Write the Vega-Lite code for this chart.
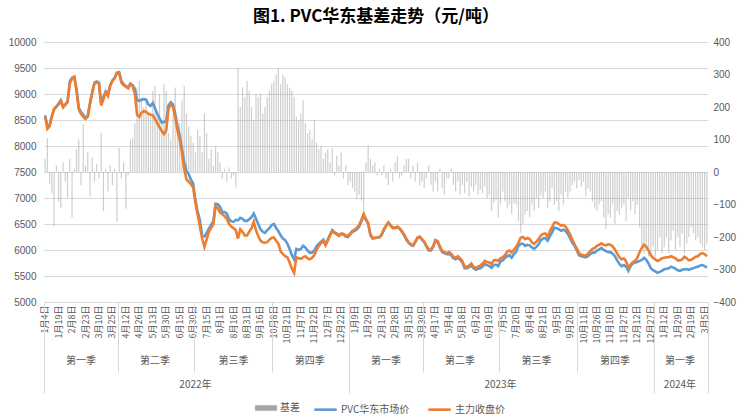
{
  "$schema": "https://vega.github.io/schema/vega-lite/v6.json",
  "width": 664,
  "height": 260,
  "autosize": {"type": "none"},
  "padding": {"left": 44, "top": 42, "right": 47, "bottom": 115},
  "title": {"text": "图1. PVC华东基差走势（元/吨）", "font": "Noto Sans CJK SC", "fontSize": 17, "fontWeight": "bold", "color": "#000000", "anchor": "middle", "offset": 11},
  "config": {"view": {"stroke": null}, "font": "Noto Sans CJK SC"},
  "data": {"values": [
{"d":"2022-01-04","s":8590,"f":8560,"b":40},{"d":"2022-01-06","s":8380,"f":8330,"b":105},{"d":"2022-01-10","s":8400,"f":8380,"b":-35},{"d":"2022-01-12","s":8580,"f":8560,"b":-65},{"d":"2022-01-14","s":8700,"f":8720,"b":-166},{"d":"2022-01-18","s":8750,"f":8760,"b":20},
{"d":"2022-01-19","s":8820,"f":8800,"b":-90},{"d":"2022-01-21","s":8880,"f":8860,"b":-110},{"d":"2022-01-25","s":8760,"f":8740,"b":30},{"d":"2022-01-27","s":8800,"f":8790,"b":-30},{"d":"2022-01-29","s":8860,"f":8840,"b":-80},{"d":"2022-02-07","s":9240,"f":9200,"b":40},
{"d":"2022-02-08","s":9310,"f":9300,"b":-140},{"d":"2022-02-10","s":9330,"f":9330,"b":10},{"d":"2022-02-14","s":9100,"f":9050,"b":70},{"d":"2022-02-16","s":8740,"f":8700,"b":100},{"d":"2022-02-18","s":8650,"f":8620,"b":-40},{"d":"2022-02-22","s":8600,"f":8560,"b":147},
{"d":"2022-02-23","s":8540,"f":8520,"b":20},{"d":"2022-02-25","s":8580,"f":8560,"b":60},{"d":"2022-03-01","s":8830,"f":8800,"b":-75},{"d":"2022-03-03","s":9040,"f":9020,"b":45},{"d":"2022-03-07","s":9220,"f":9200,"b":-30},{"d":"2022-03-09","s":9240,"f":9220,"b":25},
{"d":"2022-03-10","s":9220,"f":9200,"b":-20},{"d":"2022-03-14","s":8800,"f":8780,"b":121},{"d":"2022-03-16","s":8950,"f":8900,"b":-120},{"d":"2022-03-18","s":9050,"f":9030,"b":10},{"d":"2022-03-22","s":8990,"f":8960,"b":-60},{"d":"2022-03-24","s":9170,"f":9150,"b":20},
{"d":"2022-03-25","s":9260,"f":9250,"b":-40},{"d":"2022-03-29","s":9310,"f":9300,"b":10},{"d":"2022-03-31","s":9410,"f":9400,"b":-154},{"d":"2022-04-02","s":9420,"f":9400,"b":75},{"d":"2022-04-07","s":9250,"f":9220,"b":-20},{"d":"2022-04-11","s":9190,"f":9170,"b":30},
{"d":"2022-04-12","s":9150,"f":9140,"b":-113},{"d":"2022-04-14","s":9130,"f":9110,"b":-10},{"d":"2022-04-18","s":9200,"f":9190,"b":100},{"d":"2022-04-20","s":9170,"f":9150,"b":105},{"d":"2022-04-22","s":9100,"f":9000,"b":150},{"d":"2022-04-25","s":8880,"f":8600,"b":260},
{"d":"2022-04-26","s":8870,"f":8560,"b":280},{"d":"2022-04-28","s":8890,"f":8640,"b":230},{"d":"2022-05-05","s":8900,"f":8670,"b":200},{"d":"2022-05-07","s":8890,"f":8660,"b":220},{"d":"2022-05-10","s":8800,"f":8620,"b":180},{"d":"2022-05-12","s":8770,"f":8600,"b":170},
{"d":"2022-05-13","s":8830,"f":8590,"b":250},{"d":"2022-05-17","s":8720,"f":8520,"b":265},{"d":"2022-05-19","s":8620,"f":8440,"b":180},{"d":"2022-05-23","s":8530,"f":8360,"b":240},{"d":"2022-05-25","s":8450,"f":8290,"b":160},{"d":"2022-05-27","s":8460,"f":8230,"b":270},
{"d":"2022-05-30","s":8480,"f":8300,"b":250},{"d":"2022-06-01","s":8780,"f":8720,"b":120},{"d":"2022-06-06","s":8840,"f":8800,"b":100},{"d":"2022-06-08","s":8800,"f":8750,"b":180},{"d":"2022-06-10","s":8620,"f":8550,"b":260},{"d":"2022-06-14","s":8380,"f":8300,"b":150},
{"d":"2022-06-15","s":8200,"f":8120,"b":150},{"d":"2022-06-17","s":7950,"f":7870,"b":220},{"d":"2022-06-21","s":7680,"f":7560,"b":265},{"d":"2022-06-23","s":7520,"f":7360,"b":180},{"d":"2022-06-27","s":7460,"f":7310,"b":140},{"d":"2022-06-29","s":7350,"f":7270,"b":110},
{"d":"2022-06-30","s":7280,"f":7200,"b":90},{"d":"2022-07-04","s":6960,"f":6900,"b":60},{"d":"2022-07-06","s":6740,"f":6680,"b":130},{"d":"2022-07-08","s":6570,"f":6450,"b":110},{"d":"2022-07-12","s":6280,"f":6220,"b":60},{"d":"2022-07-14","s":6260,"f":6060,"b":180},
{"d":"2022-07-15","s":6330,"f":6200,"b":120},{"d":"2022-07-19","s":6410,"f":6350,"b":40},{"d":"2022-07-21","s":6480,"f":6420,"b":70},{"d":"2022-07-25","s":6560,"f":6500,"b":20},{"d":"2022-07-27","s":6890,"f":6850,"b":80},{"d":"2022-07-29","s":6880,"f":6800,"b":60},
{"d":"2022-08-01","s":6830,"f":6720,"b":30},{"d":"2022-08-03","s":6730,"f":6690,"b":-20},{"d":"2022-08-05","s":6730,"f":6650,"b":10},{"d":"2022-08-09","s":6700,"f":6600,"b":-30},{"d":"2022-08-11","s":6590,"f":6500,"b":15},{"d":"2022-08-15","s":6550,"f":6450,"b":-20},
{"d":"2022-08-16","s":6540,"f":6420,"b":-10},{"d":"2022-08-18","s":6580,"f":6380,"b":-48},{"d":"2022-08-22","s":6570,"f":6220,"b":321},{"d":"2022-08-24","s":6620,"f":6400,"b":200},{"d":"2022-08-26","s":6600,"f":6350,"b":260},{"d":"2022-08-30","s":6560,"f":6280,"b":230},
{"d":"2022-08-31","s":6560,"f":6280,"b":280},{"d":"2022-09-02","s":6590,"f":6350,"b":250},{"d":"2022-09-06","s":6630,"f":6420,"b":200},{"d":"2022-09-08","s":6700,"f":6540,"b":160},{"d":"2022-09-13","s":6600,"f":6380,"b":240},{"d":"2022-09-15","s":6500,"f":6270,"b":230},
{"d":"2022-09-16","s":6400,"f":6180,"b":240},{"d":"2022-09-20","s":6350,"f":6150,"b":180},{"d":"2022-09-22","s":6330,"f":6140,"b":200},{"d":"2022-09-26","s":6380,"f":6150,"b":230},{"d":"2022-09-28","s":6420,"f":6200,"b":250},{"d":"2022-09-30","s":6480,"f":6230,"b":270},
{"d":"2022-10-08","s":6500,"f":6240,"b":280},{"d":"2022-10-10","s":6420,"f":6180,"b":300},{"d":"2022-10-12","s":6360,"f":6120,"b":320},{"d":"2022-10-14","s":6280,"f":5970,"b":270},{"d":"2022-10-18","s":6220,"f":5920,"b":300},{"d":"2022-10-20","s":6190,"f":5880,"b":290},
{"d":"2022-10-21","s":6120,"f":5860,"b":270},{"d":"2022-10-25","s":6020,"f":5760,"b":260},{"d":"2022-10-27","s":5900,"f":5640,"b":250},{"d":"2022-10-31","s":5820,"f":5560,"b":230},{"d":"2022-11-02","s":6020,"f":5860,"b":170},{"d":"2022-11-04","s":6000,"f":5840,"b":160},
{"d":"2022-11-07","s":6020,"f":5830,"b":180},{"d":"2022-11-09","s":6080,"f":5860,"b":220},{"d":"2022-11-11","s":6050,"f":5880,"b":150},{"d":"2022-11-15","s":5990,"f":5840,"b":120},{"d":"2022-11-17","s":5950,"f":5820,"b":130},{"d":"2022-11-21","s":5950,"f":5850,"b":100},
{"d":"2022-11-22","s":5990,"f":5900,"b":160},{"d":"2022-11-24","s":6070,"f":6000,"b":90},{"d":"2022-11-28","s":6120,"f":6080,"b":70},{"d":"2022-11-30","s":6160,"f":6130,"b":80},{"d":"2022-12-02","s":6200,"f":6180,"b":40},{"d":"2022-12-06","s":6110,"f":6090,"b":60},
{"d":"2022-12-07","s":6200,"f":6180,"b":70},{"d":"2022-12-09","s":6290,"f":6280,"b":30},{"d":"2022-12-13","s":6380,"f":6360,"b":75},{"d":"2022-12-15","s":6340,"f":6330,"b":-10},{"d":"2022-12-19","s":6320,"f":6300,"b":50},{"d":"2022-12-21","s":6280,"f":6270,"b":20},
{"d":"2022-12-22","s":6310,"f":6320,"b":60},{"d":"2022-12-26","s":6300,"f":6310,"b":-20},{"d":"2022-12-28","s":6260,"f":6280,"b":20},{"d":"2022-12-30","s":6250,"f":6270,"b":-40},{"d":"2023-01-04","s":6300,"f":6320,"b":-30},{"d":"2023-01-06","s":6350,"f":6370,"b":-50},
{"d":"2023-01-09","s":6370,"f":6390,"b":-60},{"d":"2023-01-11","s":6400,"f":6430,"b":-84},{"d":"2023-01-13","s":6450,"f":6480,"b":-70},{"d":"2023-01-17","s":6550,"f":6580,"b":-88},{"d":"2023-01-19","s":6660,"f":6690,"b":-125},{"d":"2023-01-28","s":6580,"f":6600,"b":30},
{"d":"2023-01-29","s":6510,"f":6520,"b":82},{"d":"2023-01-31","s":6290,"f":6300,"b":40},{"d":"2023-02-02","s":6220,"f":6240,"b":20},{"d":"2023-02-06","s":6230,"f":6230,"b":30},{"d":"2023-02-08","s":6240,"f":6240,"b":-10},{"d":"2023-02-10","s":6240,"f":6250,"b":10},
{"d":"2023-02-13","s":6290,"f":6300,"b":-10},{"d":"2023-02-15","s":6380,"f":6400,"b":20},{"d":"2023-02-17","s":6460,"f":6470,"b":-20},{"d":"2023-02-21","s":6520,"f":6530,"b":-40},{"d":"2023-02-23","s":6470,"f":6480,"b":10},{"d":"2023-02-27","s":6420,"f":6430,"b":-30},
{"d":"2023-02-28","s":6420,"f":6430,"b":30},{"d":"2023-03-02","s":6440,"f":6450,"b":50},{"d":"2023-03-06","s":6410,"f":6420,"b":-20},{"d":"2023-03-08","s":6350,"f":6370,"b":-10},{"d":"2023-03-10","s":6290,"f":6300,"b":20},{"d":"2023-03-14","s":6200,"f":6220,"b":40},
{"d":"2023-03-15","s":6140,"f":6150,"b":40},{"d":"2023-03-17","s":6100,"f":6110,"b":-20},{"d":"2023-03-21","s":6080,"f":6090,"b":20},{"d":"2023-03-23","s":6150,"f":6160,"b":-30},{"d":"2023-03-27","s":6230,"f":6240,"b":30},{"d":"2023-03-29","s":6250,"f":6260,"b":-40},
{"d":"2023-03-30","s":6200,"f":6210,"b":-30},{"d":"2023-04-03","s":6150,"f":6160,"b":-50},{"d":"2023-04-06","s":6070,"f":6080,"b":-20},{"d":"2023-04-10","s":5990,"f":6010,"b":20},{"d":"2023-04-12","s":5990,"f":6010,"b":-40},{"d":"2023-04-14","s":6060,"f":6080,"b":-60},
{"d":"2023-04-17","s":6180,"f":6190,"b":-30},{"d":"2023-04-19","s":6150,"f":6170,"b":-60},{"d":"2023-04-21","s":6050,"f":6070,"b":10},{"d":"2023-04-24","s":5960,"f":5980,"b":-50},{"d":"2023-04-26","s":5940,"f":5960,"b":-70},{"d":"2023-04-28","s":5920,"f":5940,"b":-20},
{"d":"2023-05-04","s":5920,"f":5960,"b":-20},{"d":"2023-05-06","s":5900,"f":5930,"b":10},{"d":"2023-05-09","s":5840,"f":5870,"b":-40},{"d":"2023-05-11","s":5820,"f":5850,"b":-60},{"d":"2023-05-15","s":5850,"f":5880,"b":-30},{"d":"2023-05-17","s":5810,"f":5840,"b":-70},
{"d":"2023-05-18","s":5760,"f":5790,"b":-40},{"d":"2023-05-22","s":5650,"f":5670,"b":-65},{"d":"2023-05-24","s":5650,"f":5680,"b":-30},{"d":"2023-05-26","s":5670,"f":5700,"b":-75},{"d":"2023-05-30","s":5700,"f":5740,"b":-45},{"d":"2023-06-01","s":5650,"f":5680,"b":-60},
{"d":"2023-06-02","s":5620,"f":5650,"b":-40},{"d":"2023-06-06","s":5640,"f":5680,"b":-70},{"d":"2023-06-08","s":5650,"f":5700,"b":-55},{"d":"2023-06-12","s":5680,"f":5740,"b":-65},{"d":"2023-06-14","s":5730,"f":5790,"b":-45},{"d":"2023-06-16","s":5710,"f":5770,"b":-80},
{"d":"2023-06-19","s":5690,"f":5760,"b":-70},{"d":"2023-06-21","s":5660,"f":5730,"b":-120},{"d":"2023-06-26","s":5710,"f":5800,"b":-95},{"d":"2023-06-28","s":5720,"f":5810,"b":-85},{"d":"2023-06-30","s":5690,"f":5790,"b":-140},{"d":"2023-07-04","s":5780,"f":5840,"b":-100},
{"d":"2023-07-05","s":5800,"f":5860,"b":-60},{"d":"2023-07-07","s":5850,"f":5900,"b":-90},{"d":"2023-07-11","s":5880,"f":5970,"b":-110},{"d":"2023-07-13","s":5900,"f":5990,"b":-100},{"d":"2023-07-17","s":5850,"f":5950,"b":-130},{"d":"2023-07-19","s":5920,"f":6010,"b":-95},
{"d":"2023-07-20","s":5970,"f":6060,"b":-100},{"d":"2023-07-24","s":6080,"f":6140,"b":-150},{"d":"2023-07-26","s":6120,"f":6240,"b":-187},{"d":"2023-07-28","s":6120,"f":6250,"b":-160},{"d":"2023-08-01","s":6080,"f":6210,"b":-130},{"d":"2023-08-03","s":6100,"f":6230,"b":-120},
{"d":"2023-08-04","s":6090,"f":6210,"b":-140},{"d":"2023-08-08","s":6050,"f":6150,"b":-100},{"d":"2023-08-10","s":6020,"f":6120,"b":-120},{"d":"2023-08-14","s":6060,"f":6160,"b":-80},{"d":"2023-08-16","s":6110,"f":6210,"b":-110},{"d":"2023-08-18","s":6190,"f":6280,"b":-70},
{"d":"2023-08-21","s":6220,"f":6310,"b":-80},{"d":"2023-08-23","s":6230,"f":6320,"b":-60},{"d":"2023-08-25","s":6180,"f":6260,"b":-110},{"d":"2023-08-29","s":6260,"f":6360,"b":-90},{"d":"2023-08-31","s":6340,"f":6440,"b":-50},{"d":"2023-09-04","s":6430,"f":6530,"b":-100},
{"d":"2023-09-05","s":6420,"f":6530,"b":-90},{"d":"2023-09-07","s":6400,"f":6500,"b":-120},{"d":"2023-09-11","s":6370,"f":6470,"b":-70},{"d":"2023-09-13","s":6390,"f":6480,"b":-100},{"d":"2023-09-15","s":6370,"f":6450,"b":-60},{"d":"2023-09-19","s":6310,"f":6380,"b":-80},
{"d":"2023-09-20","s":6230,"f":6300,"b":-60},{"d":"2023-09-22","s":6140,"f":6200,"b":-40},{"d":"2023-09-26","s":6080,"f":6110,"b":-30},{"d":"2023-09-28","s":5990,"f":6030,"b":-50},{"d":"2023-10-08","s":5900,"f":5940,"b":-25},{"d":"2023-10-10","s":5880,"f":5910,"b":-45},
{"d":"2023-10-11","s":5870,"f":5900,"b":-30},{"d":"2023-10-13","s":5860,"f":5890,"b":-75},{"d":"2023-10-17","s":5880,"f":5930,"b":-50},{"d":"2023-10-19","s":5920,"f":5980,"b":-60},{"d":"2023-10-23","s":5950,"f":6020,"b":-90},{"d":"2023-10-25","s":5950,"f":6040,"b":-110},
{"d":"2023-10-26","s":5990,"f":6080,"b":-120},{"d":"2023-10-30","s":6010,"f":6100,"b":-100},{"d":"2023-11-01","s":6040,"f":6130,"b":-90},{"d":"2023-11-03","s":6000,"f":6100,"b":-140},{"d":"2023-11-07","s":5980,"f":6090,"b":-175},{"d":"2023-11-09","s":5960,"f":6110,"b":-130},
{"d":"2023-11-10","s":5960,"f":6100,"b":-140},{"d":"2023-11-14","s":5930,"f":6070,"b":-100},{"d":"2023-11-16","s":5880,"f":6010,"b":-160},{"d":"2023-11-20","s":5800,"f":5930,"b":-120},{"d":"2023-11-22","s":5730,"f":5860,"b":-130},{"d":"2023-11-24","s":5690,"f":5820,"b":-110},
{"d":"2023-11-27","s":5710,"f":5840,"b":-100},{"d":"2023-11-29","s":5680,"f":5780,"b":-150},{"d":"2023-12-01","s":5600,"f":5660,"b":-80},{"d":"2023-12-05","s":5690,"f":5720,"b":-120},{"d":"2023-12-07","s":5740,"f":5770,"b":-90},{"d":"2023-12-11","s":5760,"f":5790,"b":-130},
{"d":"2023-12-12","s":5770,"f":5850,"b":-100},{"d":"2023-12-14","s":5790,"f":5960,"b":-170},{"d":"2023-12-18","s":5810,"f":6040,"b":-230},{"d":"2023-12-20","s":5850,"f":6100,"b":-250},{"d":"2023-12-22","s":5810,"f":6060,"b":-240},{"d":"2023-12-26","s":5740,"f":5990,"b":-260},
{"d":"2023-12-27","s":5650,"f":5900,"b":-250},{"d":"2023-12-29","s":5610,"f":5850,"b":-230},{"d":"2024-01-03","s":5590,"f":5820,"b":-260},{"d":"2024-01-05","s":5560,"f":5790,"b":-240},{"d":"2024-01-09","s":5580,"f":5810,"b":-200},{"d":"2024-01-11","s":5600,"f":5840,"b":-250},
{"d":"2024-01-12","s":5630,"f":5850,"b":-230},{"d":"2024-01-16","s":5640,"f":5860,"b":-200},{"d":"2024-01-18","s":5650,"f":5860,"b":-250},{"d":"2024-01-22","s":5680,"f":5880,"b":-210},{"d":"2024-01-24","s":5660,"f":5860,"b":-180},{"d":"2024-01-26","s":5640,"f":5840,"b":-240},
{"d":"2024-01-29","s":5610,"f":5800,"b":-200},{"d":"2024-01-31","s":5600,"f":5800,"b":-230},{"d":"2024-02-02","s":5620,"f":5820,"b":-190},{"d":"2024-02-05","s":5630,"f":5870,"b":-250},{"d":"2024-02-07","s":5630,"f":5840,"b":-220},{"d":"2024-02-18","s":5620,"f":5800,"b":-200},
{"d":"2024-02-19","s":5640,"f":5810,"b":-170},{"d":"2024-02-21","s":5650,"f":5840,"b":-190},{"d":"2024-02-23","s":5670,"f":5870,"b":-210},{"d":"2024-02-27","s":5680,"f":5880,"b":-200},{"d":"2024-02-29","s":5700,"f":5920,"b":-220},{"d":"2024-03-04","s":5710,"f":5940,"b":-230},
{"d":"2024-03-05","s":5690,"f":5920,"b":-240},{"d":"2024-03-07","s":5660,"f":5880,"b":-220}
  ]},
  "layer": [
    {
      "mark": {"type": "bar", "width": 1.2, "opacity": 0.55},
      "encoding": {
        "x": {"field": "d", "type": "ordinal", "scale": {"paddingInner": 0, "paddingOuter": 0},
          "axis": {"orient": "bottom", "title": null, "ticks": false, "domain": false, "grid": false,
            "values": ["2022-01-04","2022-01-19","2022-02-08","2022-02-23","2022-03-10","2022-03-25","2022-04-12","2022-04-26","2022-05-13","2022-05-30","2022-06-15","2022-06-30","2022-07-15","2022-08-01","2022-08-16","2022-08-31","2022-09-16","2022-10-08","2022-10-21","2022-11-07","2022-11-22","2022-12-07","2022-12-22","2023-01-09","2023-01-29","2023-02-13","2023-02-28","2023-03-15","2023-03-30","2023-04-17","2023-05-04","2023-05-18","2023-06-02","2023-06-19","2023-07-05","2023-07-20","2023-08-04","2023-08-21","2023-09-05","2023-09-20","2023-10-11","2023-10-26","2023-11-10","2023-11-27","2023-12-12","2023-12-27","2024-01-12","2024-01-29","2024-02-19","2024-03-05"],
            "labelExpr": "toNumber(substring(datum.value,5,7)) + '月' + toNumber(substring(datum.value,8,10)) + '日'",
            "labelAngle": -90, "labelFont": "Noto Sans CJK SC", "labelFontSize": 9, "labelColor": "#595959",
            "labelPadding": 3, "labelOverlap": false, "labelBound": false, "labelFlush": false}},
        "y": {"field": "b", "type": "quantitative", "scale": {"domain": [-400, 400], "nice": false},
          "axis": {"orient": "right", "title": null, "values": [-400,-300,-200,-100,0,100,200,300,400], "grid": false, "ticks": false, "domain": false,
            "labelFont": "Liberation Sans", "labelFontSize": 10, "labelColor": "#595959", "labelPadding": 5}},
        "fill": {"datum": "基差", "type": "nominal",
          "scale": {"domain": ["基差"], "range": ["#A5A5A5"]},
          "legend": {"orient": "none", "legendX": 211, "legendY": 355, "direction": "horizontal", "title": null,
            "symbolType": "M-1,-0.25H1V0.25H-1Z", "symbolSize": 480, "symbolStrokeWidth": 0, "symbolOpacity": 1,
            "labelFont": "Noto Sans CJK SC", "labelFontSize": 10, "labelColor": "#595959", "labelOffset": 3}}
      }
    },
    {
      "mark": {"type": "line", "strokeWidth": 2.6},
      "encoding": {
        "x": {"field": "d", "type": "ordinal",
          "axis": {"orient": "bottom", "title": null, "ticks": false, "domain": false, "grid": false, "offset": 50,
            "values": ["2022-02-18","2022-05-17","2022-08-16","2022-11-17","2023-02-17","2023-05-17","2023-08-14","2023-11-16","2024-01-31"],
            "labelExpr": "toNumber(substring(datum.value,5,7)) <= 3 ? '第一季' : (toNumber(substring(datum.value,5,7)) <= 6 ? '第二季' : (toNumber(substring(datum.value,5,7)) <= 9 ? '第三季' : '第四季'))",
            "labelAngle": 0, "labelFont": "Noto Sans CJK SC", "labelFontSize": 10, "labelColor": "#595959", "labelPadding": 3, "labelOverlap": false, "labelBound": false}},
        "y": {"field": "s", "type": "quantitative", "scale": {"domain": [5000, 10000], "nice": false},
          "axis": {"orient": "left", "title": null, "values": [5000,5500,6000,6500,7000,7500,8000,8500,9000,9500,10000], "format": "d", "grid": true, "gridColor": "#D9D9D9", "gridWidth": 1, "ticks": false, "domain": false,
            "labelFont": "Liberation Sans", "labelFontSize": 10, "labelColor": "#595959", "labelPadding": 8}},
        "stroke": {"datum": "PVC华东市场价", "type": "nominal",
          "scale": {"domain": ["PVC华东市场价", "主力收盘价"], "range": ["#5B9BD5", "#ED7D31"]},
          "legend": {"orient": "none", "legendX": 269, "legendY": 355, "direction": "horizontal", "title": null,
            "symbolType": "stroke", "symbolSize": 500, "symbolStrokeWidth": 2.6, "symbolOpacity": 1,
            "labelFont": "Noto Sans CJK SC", "labelFontSize": 10, "labelColor": "#595959", "labelOffset": 3, "columnPadding": 13}}
      }
    },
    {
      "mark": {"type": "line", "strokeWidth": 2.6},
      "encoding": {
        "x": {"field": "d", "type": "ordinal",
          "axis": {"orient": "bottom", "title": null, "ticks": false, "domain": false, "grid": false, "offset": 74,
            "values": ["2022-07-04","2023-07-04","2024-01-31"],
            "labelExpr": "substring(datum.value,0,4) + '年'",
            "labelAngle": 0, "labelFont": "Noto Sans CJK SC", "labelFontSize": 10, "labelColor": "#595959", "labelPadding": 3, "labelOverlap": false, "labelBound": false}},
        "y": {"field": "f", "type": "quantitative", "scale": {"domain": [5000, 10000], "nice": false}, "axis": null},
        "stroke": {"datum": "主力收盘价", "type": "nominal"}
      }
    },
    {
      "mark": {"type": "tick", "opacity": 0},
      "encoding": {
        "x": {"field": "d", "type": "ordinal",
          "axis": {"orient": "bottom", "title": null, "labels": false, "domain": false, "grid": false, "ticks": true, "bandPosition": 0,
            "tickSize": 70, "tickColor": "#D9D9D9", "tickWidth": 1,
            "values": ["2022-04-02","2022-07-04","2022-10-08","2023-04-03","2023-07-04","2023-10-08"]}}
      }
    },
    {
      "mark": {"type": "tick", "opacity": 0},
      "encoding": {
        "x": {"field": "d", "type": "ordinal",
          "axis": {"orient": "bottom", "title": null, "labels": false, "domain": false, "grid": false, "ticks": true, "bandPosition": 0,
            "tickSize": 91, "tickColor": "#D9D9D9", "tickWidth": 1,
            "values": ["2022-01-04","2023-01-04","2024-01-03"]}}
      }
    },
    {
      "mark": {"type": "tick", "opacity": 0},
      "encoding": {
        "x": {"field": "d", "type": "ordinal",
          "axis": {"orient": "bottom", "title": null, "labels": false, "domain": false, "grid": false, "ticks": true, "bandPosition": 1,
            "tickSize": 91, "tickColor": "#D9D9D9", "tickWidth": 1,
            "values": ["2024-03-07"]}}
      }
    }
  ],
  "resolve": {"scale": {"y": "independent"}, "axis": {"x": "independent", "y": "independent"}}
}
